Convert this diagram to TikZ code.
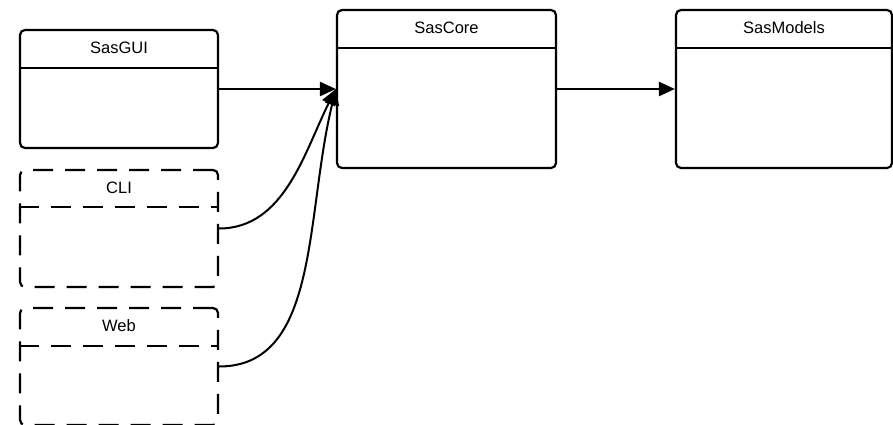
\documentclass[tikz,border=0pt]{standalone}
\usepackage{fontspec}
\setmainfont{Liberation Sans}
\usetikzlibrary{arrows.meta}
\begin{document}
\begin{tikzpicture}[x=1pt,y=-1pt,
  pkg/.style={draw,line width=2.2pt,rounded corners=5pt,inner sep=0pt},
  optpkg/.style={pkg,dash pattern=on 20pt off 12pt},
  title/.style={font=\fontsize{16.5}{20}\selectfont,inner sep=0pt},
  arr/.style={line width=2.4pt,-{Triangle[length=16pt,width=14pt]}},
  carr/.style={line width=2pt,-{Triangle[length=16pt,width=14pt]}}]
\useasboundingbox (0,0) rectangle (893,425);

% package boxes
\node[pkg,minimum width=198pt,minimum height=118pt] (gui) at (119,89) {};
\node[optpkg,minimum width=198pt,minimum height=117pt] (cli) at (119,228.5) {};
\node[optpkg,minimum width=198pt,minimum height=117pt] (web) at (119,366.5) {};
\node[pkg,minimum width=219pt,minimum height=158pt] (core) at (446.5,89) {};
\node[pkg,minimum width=216pt,minimum height=158pt] (models) at (784,89) {};

% header separators
\draw[line width=2pt] ([yshift=-39pt]gui.north west) -- ([yshift=-39pt]gui.north east);
\draw[line width=2pt,dash pattern=on 20pt off 12pt] ([yshift=-38pt]cli.north west) -- ([yshift=-38pt]cli.north east);
\draw[line width=2pt,dash pattern=on 20pt off 12pt] ([yshift=-39pt]web.north west) -- ([yshift=-39pt]web.north east);
\draw[line width=2pt] ([yshift=-39pt]core.north west) -- ([yshift=-39pt]core.north east);
\draw[line width=2pt] ([yshift=-39pt]models.north west) -- ([yshift=-39pt]models.north east);

% titles
\node[title] (guit) at ([yshift=-18.5pt]gui.north) {SasGUI};
\node[title] (clit) at ([yshift=-18.5pt]cli.north) {CLI};
\node[title] (webt) at ([yshift=-18.5pt]web.north) {Web};
\node[title] (coret) at ([yshift=-18.5pt]core.north) {SasCore};
\node[title] (modelst) at ([yshift=-18.5pt]models.north) {SasModels};

% dependencies
\draw[arr] (gui.east) -- (core.west);
\draw[arr] (core.east) -- (models.west);
\draw[carr] (cli.east) .. controls (285,228.5) and (305,150) .. (core.west);
\draw[carr] (web.east) .. controls (320,366.5) and (305,215) .. (core.west);
\end{tikzpicture}
\end{document}
